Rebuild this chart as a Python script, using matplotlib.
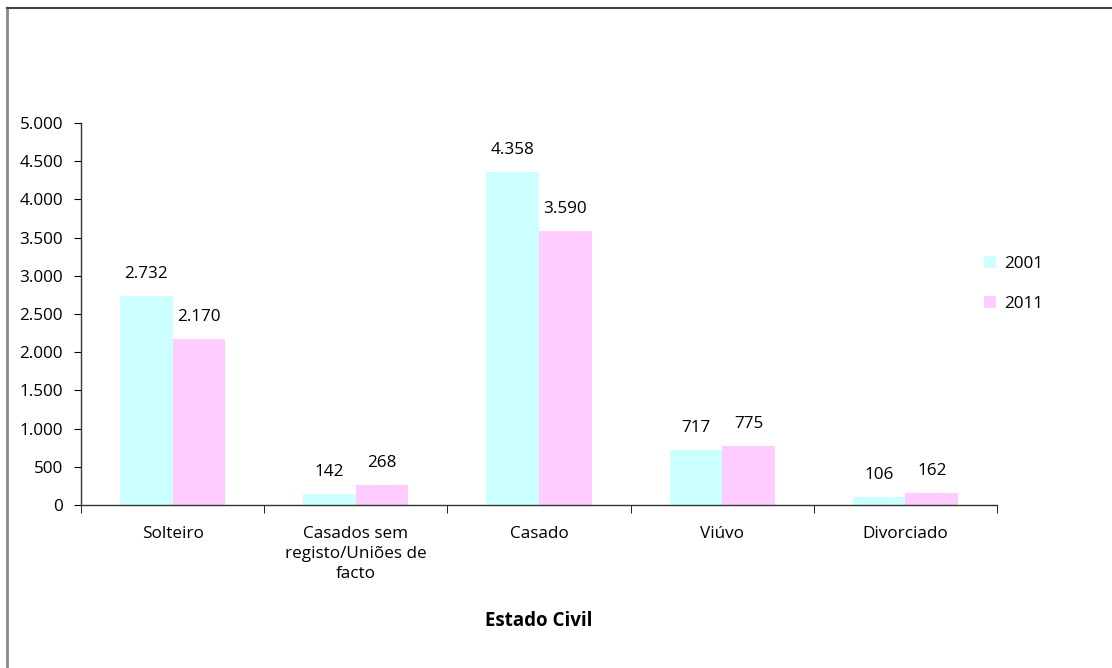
import numpy as np
import matplotlib
matplotlib.use("Agg")
import matplotlib.pyplot as plt
from matplotlib.lines import Line2D
from matplotlib.ticker import FuncFormatter, MultipleLocator

plt.rcParams['font.family'] = ['Open Sans', 'DejaVu Sans']

categories = ["Solteiro", "Casados sem\nregisto/Uniões de\nfacto", "Casado", "Viúvo", "Divorciado"]
years = ["2001", "2011"]
values_2001 = [2732, 142, 4358, 717, 106]
values_2011 = [2170, 268, 3590, 775, 162]
colors = ["#CCFFFF", "#FFCCFF"]


def pt_format(v, pos=None):
    return f"{int(v):,}".replace(",", ".")


fig = plt.figure(figsize=(11.12, 6.68), dpi=100)
ax = fig.add_axes([0.0728, 0.244, 0.8238, 0.5719])

x = np.arange(len(categories))
w = 0.287
fs = 12.3
for k, (vals, col, lab) in enumerate(zip([values_2001, values_2011], colors, years)):
    pos = x + (k - 0.5) * w
    ax.bar(pos, vals, width=w, color=col, label=lab, zorder=2)
    for xp, v in zip(pos, vals):
        ax.annotate(pt_format(v), (xp, v), xytext=(0, 10), textcoords="offset points",
                    ha="center", va="bottom", fontsize=fs)

ax.set_xlim(-0.5, len(categories) - 0.5)
ax.set_ylim(0, 5000)
ax.yaxis.set_major_locator(MultipleLocator(500))
ax.yaxis.set_major_formatter(FuncFormatter(pt_format))
ax.tick_params(axis="y", labelsize=fs, length=5, direction="out", pad=8)

ax.set_xticks(x)
ax.set_xticklabels(categories, fontsize=fs, linespacing=1.35, va="top")
ax.set_xticks(np.arange(-0.5, len(categories)), minor=True)
ax.tick_params(axis="x", which="major", length=0, pad=15)
ax.tick_params(axis="x", which="minor", length=6, direction="out")

for s in ["top", "right"]:
    ax.spines[s].set_visible(False)
for s in ["left", "bottom"]:
    ax.spines[s].set_color("#333333")
    ax.spines[s].set_linewidth(1.0)

ax.set_xlabel("Estado Civil", fontsize=13.5, fontweight="bold", labelpad=21)

ax.legend(loc="center left", bbox_to_anchor=(0.871, 0.5745), bbox_transform=fig.transFigure,
          frameon=False, fontsize=fs, handlelength=0.7, handleheight=0.7,
          handletextpad=0.5, labelspacing=1.42)

# chart area border, left and top edges
fig.add_artist(Line2D([0.0063, 0.0063], [0.0, 0.988], transform=fig.transFigure,
                      color="#888888", linewidth=2))
fig.add_artist(Line2D([0.0063, 1.0], [0.9875, 0.9875], transform=fig.transFigure,
                      color="#444444", linewidth=1.5))

fig.savefig("out.png", dpi=100)
